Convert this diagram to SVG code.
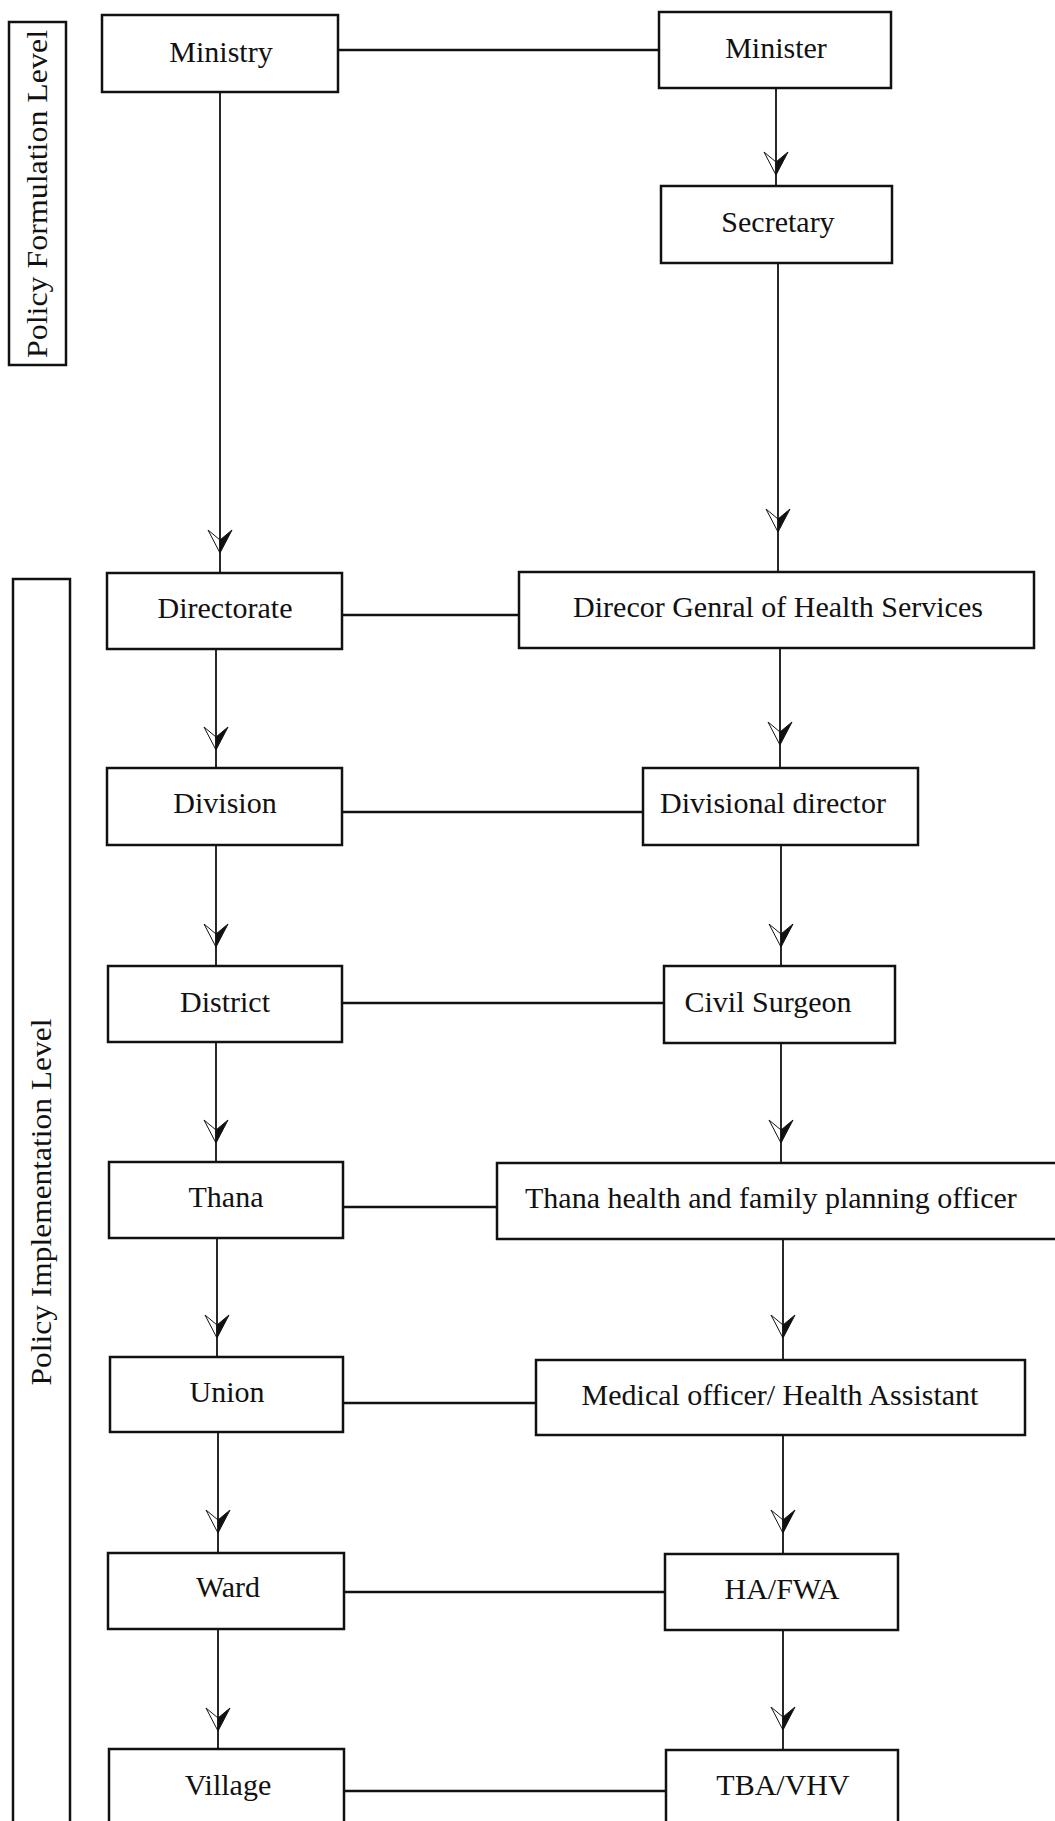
<svg xmlns="http://www.w3.org/2000/svg" width="1055" height="1821" viewBox="0 0 1055 1821">
<style>
  .box{fill:#fff;stroke:#111;stroke-width:2.5}
  .lvl{fill:none;stroke:#111;stroke-width:2.5}
  .t{font-family:"Liberation Serif","Times New Roman",serif;font-size:30px;fill:#111;text-anchor:middle}
  .ts{font-family:"Liberation Serif","Times New Roman",serif;font-size:29px;fill:#111;text-anchor:middle}
  .h{fill:none;stroke:#111;stroke-width:2.5}
  .v{fill:none;stroke:#111;stroke-width:1.8}
</style>
<defs>
  <marker id="ah" markerUnits="userSpaceOnUse" markerWidth="30" markerHeight="30" viewBox="-26 -15 30 30" refX="0" refY="0" orient="auto" overflow="visible">
    <path d="M0,0 L-23,-12 L-13,0 Z" fill="#111" stroke="#111" stroke-width="1"/>
    <path d="M0,0 L-23,12 L-13,0" fill="none" stroke="#111" stroke-width="1"/>
  </marker>
</defs>
<rect width="1055" height="1821" fill="#fff"/>

<g id="level-formulation">
  <rect class="lvl" x="9" y="22" width="57" height="343"/>
  <text class="ts" transform="translate(47,194) rotate(-90)" textLength="328" lengthAdjust="spacingAndGlyphs">Policy Formulation Level</text>
</g>
<g id="level-implementation">
  <rect class="lvl" x="13" y="579" width="57" height="1260"/>
  <text class="ts" transform="translate(51,1202) rotate(-90)" textLength="367" lengthAdjust="spacingAndGlyphs">Policy Implementation Level</text>
</g>

<g id="connectors">
  <line class="h" x1="338" y1="50" x2="659" y2="50"/>
  <line class="h" x1="342" y1="615" x2="519" y2="615"/>
  <line class="h" x1="342" y1="812" x2="643" y2="812"/>
  <line class="h" x1="342" y1="1003" x2="664" y2="1003"/>
  <line class="h" x1="343" y1="1207" x2="497" y2="1207"/>
  <line class="h" x1="343" y1="1403" x2="536" y2="1403"/>
  <line class="h" x1="344" y1="1592" x2="665" y2="1592"/>
  <line class="h" x1="344" y1="1791" x2="666" y2="1791"/>

  <polyline class="v" points="220,92 220,553 220,573" marker-mid="url(#ah)"/>
  <polyline class="v" points="216,649 216,750 216,768" marker-mid="url(#ah)"/>
  <polyline class="v" points="216,845 216,947 216,966" marker-mid="url(#ah)"/>
  <polyline class="v" points="216,1042 216,1143 216,1162" marker-mid="url(#ah)"/>
  <polyline class="v" points="217,1238 217,1338 217,1357" marker-mid="url(#ah)"/>
  <polyline class="v" points="218,1432 218,1533 218,1553" marker-mid="url(#ah)"/>
  <polyline class="v" points="218,1629 218,1731 218,1749" marker-mid="url(#ah)"/>

  <polyline class="v" points="776,88 776,175 776,186" marker-mid="url(#ah)"/>
  <polyline class="v" points="778,263 778,532 778,572" marker-mid="url(#ah)"/>
  <polyline class="v" points="780,648 780,745 780,768" marker-mid="url(#ah)"/>
  <polyline class="v" points="781,845 781,947 781,966" marker-mid="url(#ah)"/>
  <polyline class="v" points="781,1043 781,1143 781,1163" marker-mid="url(#ah)"/>
  <polyline class="v" points="783,1239 783,1338 783,1360" marker-mid="url(#ah)"/>
  <polyline class="v" points="783,1435 783,1533 783,1554" marker-mid="url(#ah)"/>
  <polyline class="v" points="783,1630 783,1730 783,1750" marker-mid="url(#ah)"/>
</g>

<g id="ministry"><rect class="box" x="102" y="15" width="236" height="77"/><text class="t" x="221" y="62">Ministry</text></g>
<g id="minister"><rect class="box" x="659" y="12" width="232" height="76"/><text class="t" x="776" y="58">Minister</text></g>
<g id="secretary"><rect class="box" x="661" y="186" width="231" height="77"/><text class="t" x="778" y="232">Secretary</text></g>
<g id="directorate"><rect class="box" x="107" y="573" width="235" height="76"/><text class="t" x="225" y="618">Directorate</text></g>
<g id="dg"><rect class="box" x="519" y="572" width="515" height="76"/><text class="t" x="778" y="617">Direcor Genral of Health Services</text></g>
<g id="division"><rect class="box" x="107" y="768" width="235" height="77"/><text class="t" x="225" y="813">Division</text></g>
<g id="divisional-director"><rect class="box" x="643" y="768" width="275" height="77"/><text class="t" x="773" y="813">Divisional director</text></g>
<g id="district"><rect class="box" x="108" y="966" width="234" height="76"/><text class="t" x="225" y="1012">District</text></g>
<g id="civil-surgeon"><rect class="box" x="664" y="966" width="231" height="77"/><text class="t" x="768" y="1012">Civil Surgeon</text></g>
<g id="thana"><rect class="box" x="109" y="1162" width="234" height="76"/><text class="t" x="226" y="1207">Thana</text></g>
<g id="thana-officer"><rect class="box" x="497" y="1163" width="580" height="76"/><text class="t" x="525" y="1208" style="text-anchor:start">Thana health and family planning officer</text></g>
<g id="union"><rect class="box" x="110" y="1357" width="233" height="75"/><text class="t" x="227" y="1402">Union</text></g>
<g id="medical-officer"><rect class="box" x="536" y="1360" width="489" height="75"/><text class="t" x="780" y="1405">Medical officer/ Health Assistant</text></g>
<g id="ward"><rect class="box" x="108" y="1553" width="236" height="76"/><text class="t" x="228" y="1597">Ward</text></g>
<g id="ha-fwa"><rect class="box" x="665" y="1554" width="233" height="76"/><text class="t" x="782" y="1599">HA/FWA</text></g>
<g id="village"><rect class="box" x="109" y="1749" width="235" height="90"/><text class="t" x="228" y="1795">Village</text></g>
<g id="tba-vhv"><rect class="box" x="666" y="1750" width="232" height="90"/><text class="t" x="783" y="1795">TBA/VHV</text></g>
</svg>
